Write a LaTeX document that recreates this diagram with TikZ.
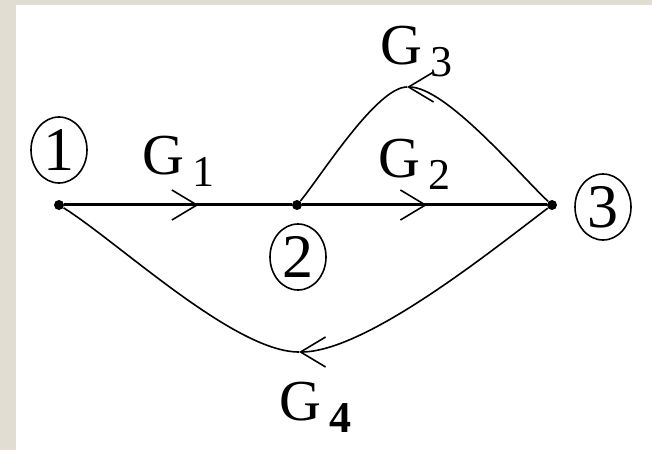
\documentclass[tikz,border=0pt]{standalone}
\usepackage{fontspec}
\setmainfont{Liberation Serif}
\usetikzlibrary{arrows.meta,decorations.markings,shapes.geometric}
\definecolor{framebeige}{RGB}{226,221,211}
\newcommand{\gainlabel}[1]{G\kern4pt\raisebox{-6pt}{\fontsize{22}{22}\selectfont #1}}

\begin{document}
\begin{tikzpicture}[
        x=0.5pt, y=0.5pt,
        junction/.style={circle, fill, inner sep=0pt, minimum size=5pt},
        nodenum/.style={draw, ellipse, line width=0.8pt, minimum width=28pt, minimum height=33pt, inner sep=0pt, font=\fontsize{31}{31}\selectfont},
        gain/.style={inner sep=0pt, anchor=base west, font=\fontsize{29}{34}\selectfont},
        branch/.style={line width=1.5pt},
        loopbranch/.style={line width=0.8pt},
        gaintip/.tip={Straight Barb[length=12.5pt, width=15pt, line width=0.8pt]},
        flow/.style={postaction={decorate}, decoration={markings, mark=at position #1 with {\arrow{gaintip}}}}
    ]
    % frame
    \fill[white] (0,0) rectangle (652,450);
    \fill[framebeige] (0,0) rectangle (16,450);
    \fill[framebeige] (0,445) rectangle (652,450);
    \useasboundingbox (0,0) rectangle (652,450);

    \node[junction] (n1) at (59,245) {};
    \node[junction] (n2) at (297,245) {};
    \node[junction] (n3) at (552,245) {};
    \node[nodenum] (c1) at (59,300) {1};
    \node[nodenum] (c2) at (298,193) {2};
    \node[nodenum] (c3) at (603,243) {3};
    \coordinate (t3) at (407,363);
    \coordinate (b4) at (299,98);

    \draw[branch, flow=0.59] (n1) -- (n2);
    \draw[branch, flow=0.51] (n2) -- (n3);
    \draw[loopbranch, -gaintip] (n3) to[out=137, in=0, looseness=0.55] (t3);
    \draw[loopbranch] (t3) to[out=180, in=50, looseness=0.5] (n2);
    \draw[loopbranch, -gaintip] (n3) to[out=-143, in=0, looseness=0.6] (b4);
    \draw[loopbranch] (b4) to[out=180, in=-32, looseness=0.6] (n1);

    \node[gain] (g1) at (142,275) {\gainlabel{1}};
    \node[gain] (g2) at (378,272) {\gainlabel{2}};
    \node[gain] (g3) at (380,385) {\gainlabel{3}};
    \node[gain] (g4) at (279,30) {\gainlabel{\textbf{4}}};
\end{tikzpicture}
\end{document}
